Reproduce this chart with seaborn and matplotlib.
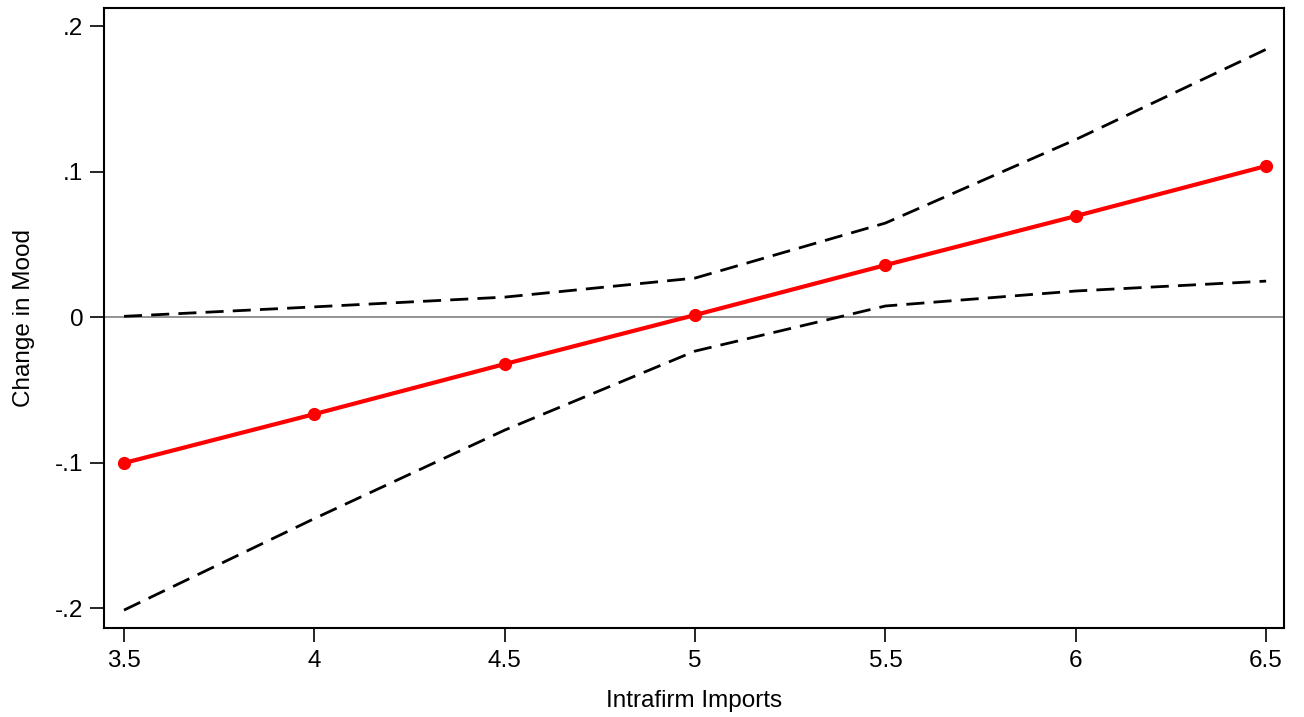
import matplotlib
matplotlib.use("Agg")
import matplotlib.pyplot as plt
import seaborn as sns
import pandas as pd
import numpy as np

x_vals = [3.5, 4.0, 4.5, 5.0, 5.5, 6.0, 6.5]
effect = [-0.1003, -0.0667, -0.0323, 0.0014, 0.0357, 0.0694, 0.1038]
upper = [0.0005, 0.0070, 0.0137, 0.0268, 0.0646, 0.1220, 0.1840]
lower = [-0.2014, -0.1385, -0.0777, -0.0234, 0.0076, 0.0179, 0.0247]
x_ticks = [3.5, 4, 4.5, 5, 5.5, 6, 6.5]
x_tick_labels = ["3.5", "4", "4.5", "5", "5.5", "6", "6.5"]
y_ticks = [-0.2, -0.1, 0, 0.1, 0.2]
y_tick_labels = ["-.2", "-.1", "0", ".1", ".2"]

sns.set_style("white")
plt.rcParams['font.family'] = ['Liberation Sans', 'DejaVu Sans']
plt.rcParams['text.color'] = 'black'
plt.rcParams['axes.labelcolor'] = 'black'
plt.rcParams['xtick.color'] = 'black'
plt.rcParams['ytick.color'] = 'black'

df = pd.DataFrame({"x": x_vals, "effect": effect, "upper": upper, "lower": lower})

fig = plt.figure(figsize=(13.04, 7.17), dpi=100)
ax = fig.add_axes([104/1304, 89/717, 1180/1304, 620/717])

ax.axhline(0, color="#808080", lw=1.2, zorder=1)
sns.lineplot(data=df, x="x", y="upper", ax=ax, color="black", lw=2, zorder=2)
sns.lineplot(data=df, x="x", y="lower", ax=ax, color="black", lw=2, zorder=2)
for l in ax.lines[1:]:
    l.set_dashes([6.5, 3.3])
sns.lineplot(data=df, x="x", y="effect", ax=ax, color="#ff0000", lw=3,
             marker="o", markersize=9.5, markeredgewidth=0, zorder=3)

ax.set_xlim(3.4475, 6.547)
ax.set_ylim(-0.2137, 0.2124)
ax.set_xticks(x_ticks)
ax.set_xticklabels(x_tick_labels)
ax.set_yticks(y_ticks)
ax.set_yticklabels(y_tick_labels)
ax.tick_params(axis="both", direction="out", length=10, width=1.2, colors="black",
               labelsize=17.5, left=True, bottom=True)
ax.tick_params(axis="x", pad=6)
ax.tick_params(axis="y", pad=5)
ax.set_xlabel("Intrafirm Imports", fontsize=17.5, labelpad=13, color="black")
ax.set_ylabel("Change in Mood", fontsize=17.5, labelpad=14, color="black")
for s in ax.spines.values():
    s.set_color("black")
    s.set_linewidth(1.5)

fig.savefig("out.png", dpi=100)
